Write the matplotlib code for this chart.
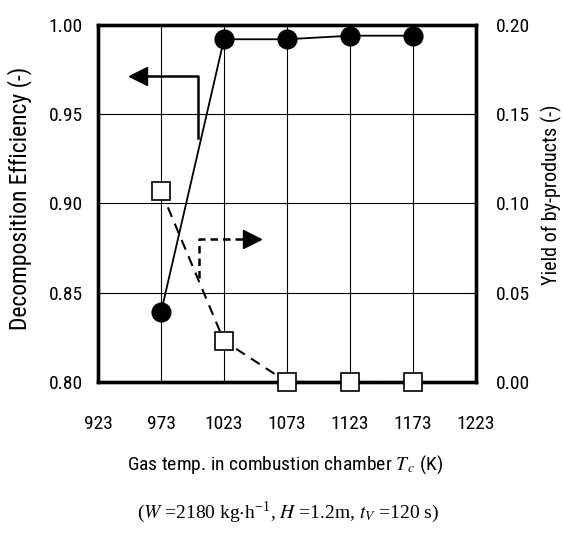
import matplotlib
matplotlib.use('Agg')
import matplotlib.pyplot as plt
import numpy as np

plt.rcParams['font.family'] = ['Roboto Condensed', 'Liberation Sans', 'DejaVu Sans']
plt.rcParams['mathtext.fontset'] = 'stix'

# data
temps = [973, 1023, 1073, 1123, 1173]
efficiency = [0.839, 0.992, 0.992, 0.994, 0.994]
byproducts = [0.107, 0.023, 0.0, 0.0, 0.0]

x_ticks = [923, 973, 1023, 1073, 1123, 1173, 1223]
eff_ticks = [0.80, 0.85, 0.90, 0.95, 1.00]
yld_ticks = [0.00, 0.05, 0.10, 0.15, 0.20]

# indicator arrows (data coords on the efficiency axis)
solid_arrow = ([1002.5, 1002.5, 962.0], [0.9367, 0.9714, 0.9714])
solid_tip = (955.0, 0.9714)
dash_arrow = ([1003.0, 1003.0, 1038.0], [0.8583, 0.880, 0.880])
dash_tip = (1045.0, 0.880)

fig = plt.figure(figsize=(5.64, 5.49), dpi=100)
ax = fig.add_axes([0.1738, 0.3042, 0.6702, 0.6503])
ax2 = ax.twinx()

ax.set_xlim(923, 1223)
ax.set_ylim(0.80, 1.00)
ax2.set_ylim(0.0, 0.20)
ax.set_xticks(x_ticks)
ax.set_yticks(eff_ticks)
ax2.set_yticks(yld_ticks)
ax.set_yticklabels([f'{v:.2f}' for v in eff_ticks])
ax2.set_yticklabels([f'{v:.2f}' for v in yld_ticks])
ax.grid(True, color='k', lw=0.8)
ax.set_axisbelow(True)

for a in (ax, ax2):
    for s in a.spines.values():
        s.set_linewidth(2.4)
ax.tick_params(axis='x', length=0, labelsize=14, pad=24)
ax.tick_params(axis='y', length=0, labelsize=14, pad=11)
ax2.tick_params(axis='y', direction='in', length=4, width=0.8, labelsize=14, pad=14)

ax.plot(temps, efficiency, '-', color='k', lw=1.3, marker='o', ms=13.5,
        mfc='k', mec='k', clip_on=False, zorder=3)
ax2.plot(temps, byproducts, color='k', lw=1.5, ls=(0, (5, 3.5)), marker='s',
         ms=12.5, mfc='white', mec='k', mew=1.2, clip_on=False, zorder=3)

ax.plot(*solid_arrow, color='k', lw=1.8)
ax.plot(*solid_tip, marker='<', ms=13, color='k')
ax.plot(*dash_arrow, color='k', lw=1.8, ls=(0, (3, 2)))
ax.plot(*dash_tip, marker='>', ms=13, color='k')

ax.set_ylabel('Decomposition Efficiency (-)', fontsize=17, va='center')
ax2.set_ylabel('Yield of by-products (-)', fontsize=14.5, va='center')
ax.yaxis.set_label_coords(-0.207, 0.515)
ax2.yaxis.set_label_coords(1.20, 0.525)

fig.text(0.505, 0.153, r'Gas temp. in combustion chamber $T_{\,c}$ (K)',
         ha='center', va='center', fontsize=14)
fig.text(0.51, 0.067,
         r'($W$ =2180 kg$\cdot$h$^{\mathregular{-1}}$, $H$ =1.2m, $t_V$ =120 s)',
         ha='center', va='center', fontsize=14, family='Liberation Serif')

fig.savefig('out.png', dpi=100)
